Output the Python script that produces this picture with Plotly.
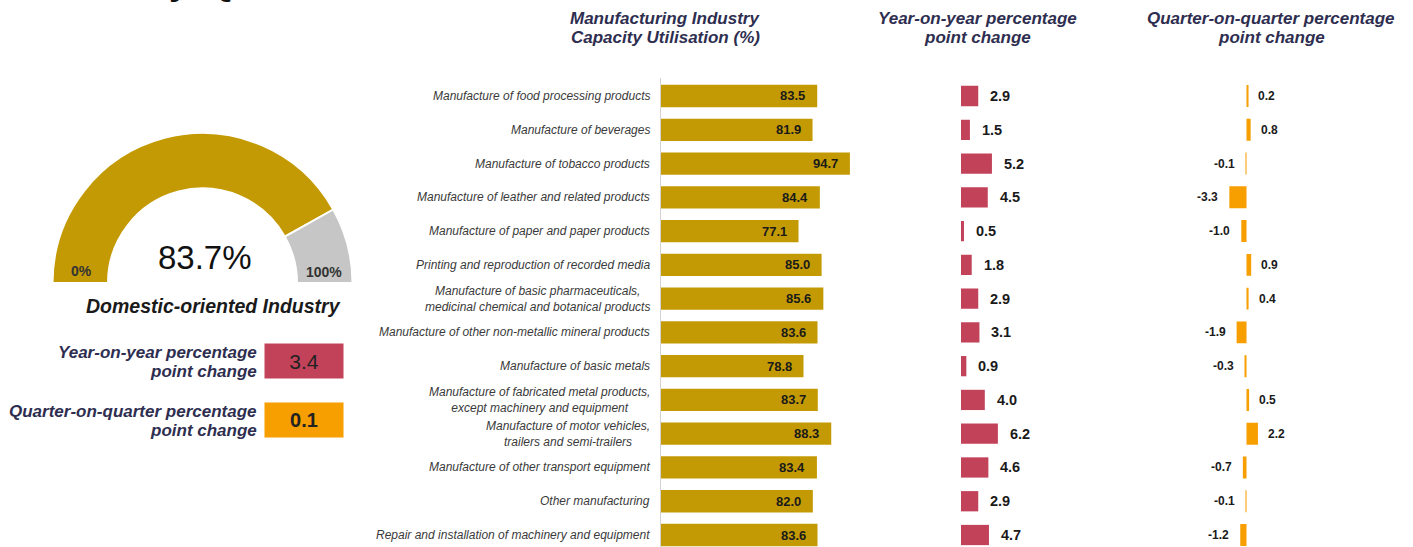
import plotly.graph_objects as go

# ---------------- data ----------------
categories = [
    "Manufacture of food processing products",
    "Manufacture of beverages",
    "Manufacture of tobacco products",
    "Manufacture of leather and related products",
    "Manufacture of paper and paper products",
    "Printing and reproduction of recorded media",
    "Manufacture of basic pharmaceuticals,<br>medicinal chemical and botanical products",
    "Manufacture of other non-metallic mineral products",
    "Manufacture of basic metals",
    "Manufacture of fabricated metal products,<br>except machinery and equipment",
    "Manufacture of motor vehicles,<br>trailers and semi-trailers",
    "Manufacture of other transport equipment",
    "Other manufacturing",
    "Repair and installation of machinery and equipment",
]
capacity = [83.5, 81.9, 94.7, 84.4, 77.1, 85.0, 85.6, 83.6, 78.8, 83.7, 88.3, 83.4, 82.0, 83.6]
yoy = [2.9, 1.5, 5.2, 4.5, 0.5, 1.8, 2.9, 3.1, 0.9, 4.0, 6.2, 4.6, 2.9, 4.7]
qoq = [0.2, 0.8, -0.1, -3.3, -1.0, 0.9, 0.4, -1.9, -0.3, 0.5, 2.2, -0.7, -0.1, -1.2]

overall_util = 83.7
overall_yoy = 3.4
overall_qoq = 0.1
gauge_min_label = "0%"
gauge_max_label = "100%"
gauge_title = "Domestic-oriented Industry"
page_title = "Industry, Q3 2024"

header_capacity = ["Manufacturing Industry", "Capacity Utilisation (%)"]
header_yoy = ["Year-on-year percentage", "point change"]
header_qoq = ["Quarter-on-quarter percentage", "point change"]

# ---------------- style ----------------
W, H = 1413, 547
GOLD = "#C49A04"
RED = "#C2425A"
ORANGE = "#F79E00"
GRAY = "#C6C6C6"
NAVY = "#2E2E50"
FONT = "Liberation Sans, Arial, sans-serif"

def px(x):
    return x / W

def py(y):
    return 1 - y / H

rows = list(range(len(categories)))

fig = go.Figure()

# capacity utilisation bars
fig.add_trace(go.Bar(x=capacity, y=rows, orientation="h", width=0.66,
                     marker=dict(color=GOLD, line=dict(width=0)),
                     xaxis="x", yaxis="y", hoverinfo="skip"))
# year-on-year bars
fig.add_trace(go.Bar(x=yoy, y=rows, orientation="h", width=0.6,
                     marker=dict(color=RED, line=dict(width=0)),
                     xaxis="x2", yaxis="y", hoverinfo="skip"))
# quarter-on-quarter bars
fig.add_trace(go.Bar(x=qoq, y=rows, orientation="h", width=0.65,
                     marker=dict(color=ORANGE, line=dict(width=0)),
                     xaxis="x3", yaxis="y", hoverinfo="skip"))

# gauge (half donut)
fig.add_trace(go.Pie(
    values=[overall_util, 100 - overall_util, 100],
    marker=dict(colors=[GOLD, GRAY, "rgba(0,0,0,0)"],
                line=dict(color=["white", "white", "rgba(0,0,0,0)"], width=[2, 2, 0])),
    hole=0.63, sort=False, direction="clockwise", rotation=-90,
    textinfo="none", hoverinfo="skip", showlegend=False,
    domain=dict(x=[px(52.5), px(352.5)], y=[py(433), py(133)]),
))

annotations = []

# category labels
for i, c in enumerate(categories):
    annotations.append(dict(x=30, y=i, xref="x", yref="y", text=f"<i>{c}</i>",
                            xanchor="right", yanchor="middle", xshift=-9, align="center",
                            showarrow=False, font=dict(family=FONT, size=12, color="#3a3a3a")))
# capacity values
for i, v in enumerate(capacity):
    annotations.append(dict(x=v, y=i, xref="x", yref="y", text=f"<b>{v:.1f}</b>",
                            xanchor="right", yanchor="middle", xshift=-10, showarrow=False,
                            font=dict(family=FONT, size=13, color="#1a1a1a")))
# yoy values
for i, v in enumerate(yoy):
    annotations.append(dict(x=v, y=i, xref="x2", yref="y", text=f"<b>{v:.1f}</b>",
                            xanchor="left", yanchor="middle", xshift=10, showarrow=False,
                            font=dict(family=FONT, size=14.5, color="#1a1a1a")))
# qoq values
for i, v in enumerate(qoq):
    annotations.append(dict(x=v, y=i, xref="x3", yref="y", text=f"<b>{v:.1f}</b>",
                            xanchor="left" if v >= 0 else "right", yanchor="middle",
                            xshift=8 if v >= 0 else -9, showarrow=False,
                            font=dict(family=FONT, size=12, color="#1a1a1a")))

# headers (one annotation per line for tight line spacing)
for lines, cx in [(header_capacity, 665), (header_yoy, 977), (header_qoq, 1271)]:
    for k, ln in enumerate(lines):
        annotations.append(dict(x=px(cx), y=py(18 + 19 * k), xref="paper", yref="paper",
                                text=f"<b><i>{ln}</i></b>", xanchor="center", yanchor="middle",
                                showarrow=False, font=dict(family=FONT, size=17, color=NAVY)))

# page title fragment (cut off at top)
annotations.append(dict(x=px(45), y=1, xref="paper", yref="paper", text=f"<b>{page_title}</b>",
                        xanchor="left", yanchor="middle", yshift=19, showarrow=False,
                        font=dict(family=FONT, size=36, color="#111111")))

# gauge texts
annotations.append(dict(x=px(205), y=py(257), xref="paper", yref="paper",
                        text=f"{overall_util:.1f}%", xanchor="center", yanchor="middle",
                        showarrow=False, font=dict(family=FONT, size=33, color="#111111")))
annotations.append(dict(x=px(81), y=py(271), xref="paper", yref="paper",
                        text=f"<b>{gauge_min_label}</b>", xanchor="center", yanchor="middle",
                        showarrow=False, font=dict(family=FONT, size=14, color="#333333")))
annotations.append(dict(x=px(324), y=py(272), xref="paper", yref="paper",
                        text=f"<b>{gauge_max_label}</b>", xanchor="center", yanchor="middle",
                        showarrow=False, font=dict(family=FONT, size=14, color="#333333")))
annotations.append(dict(x=px(213), y=py(306), xref="paper", yref="paper",
                        text=f"<b><i>{gauge_title}</i></b>", xanchor="center", yanchor="middle",
                        showarrow=False, font=dict(family=FONT, size=19.5, color="#1a1a1a")))

# left summary labels and boxes
left_labels = [(["Year-on-year percentage", "point change"], 352),
               (["Quarter-on-quarter percentage", "point change"], 411)]
for lines, y0 in left_labels:
    for k, ln in enumerate(lines):
        annotations.append(dict(x=px(259), y=py(y0 + 19 * k), xref="paper", yref="paper",
                                text=f"<b><i>{ln}</i></b>", xanchor="right", yanchor="middle",
                                showarrow=False, font=dict(family=FONT, size=17, color=NAVY)))
annotations.append(dict(x=px(304), y=py(360.5), xref="paper", yref="paper",
                        text=f"{overall_yoy:.1f}", xanchor="center", yanchor="middle",
                        width=74, height=30, borderpad=2, bgcolor=RED, showarrow=False,
                        font=dict(family=FONT, size=21, color="#222222")))
annotations.append(dict(x=px(304), y=py(419.5), xref="paper", yref="paper",
                        text=f"<b>{overall_qoq:.1f}</b>", xanchor="center", yanchor="middle",
                        width=74, height=30, borderpad=2, bgcolor=ORANGE, showarrow=False,
                        font=dict(family=FONT, size=20, color="#222222")))

hidden = dict(visible=False, showgrid=False, zeroline=False, fixedrange=True)

fig.update_layout(
    width=W, height=H,
    margin=dict(l=0, r=0, t=0, b=0),
    paper_bgcolor="white", plot_bgcolor="rgba(0,0,0,0)",
    showlegend=False,
    barmode="overlay",
    xaxis=dict(domain=[px(661), px(661 + 70 * 2.92)], range=[30, 100], anchor="y", **hidden),
    xaxis2=dict(domain=[px(961), px(961 + 10 * 5.95)], range=[0, 10], anchor="y", **hidden),
    xaxis3=dict(domain=[px(1246.5 - 5 * 5.2), px(1246.5 + 5 * 5.2)], range=[-5, 5], anchor="y", **hidden),
    yaxis=dict(domain=[0, py(78)], range=[13.355, -0.533], showticklabels=False,
               showgrid=False, zeroline=False, ticks="", showline=True,
               linecolor="#D3D3D3", linewidth=1, fixedrange=True),
    annotations=annotations,
    font=dict(family=FONT),
)

fig.write_html("out.html")
